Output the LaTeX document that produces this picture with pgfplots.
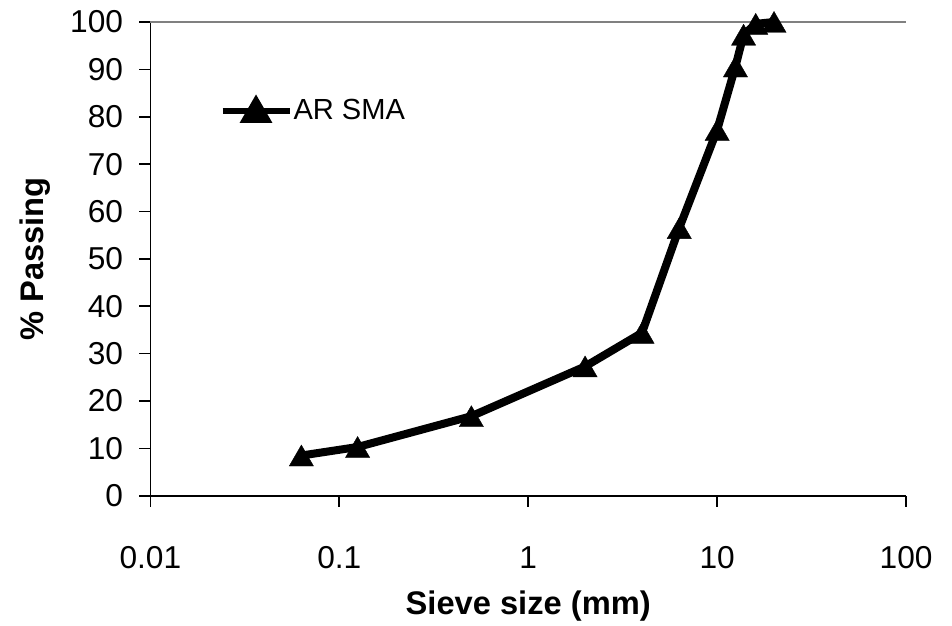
\documentclass[border=0pt]{standalone}
\usepackage{fontspec}
\setmainfont{Liberation Sans}
\usepackage{pgfplots}
\pgfplotsset{compat=1.18}

\newcommand{\tickfont}{\fontsize{15.9}{18}\selectfont}
\newcommand{\labfont}{\fontsize{16.4}{19}\selectfont}
\newcommand{\legfont}{\fontsize{14.6}{17}\selectfont}

\begin{document}
\begin{tikzpicture}
\begin{axis}[
  width=378bp, height=237bp, scale only axis,
  xmode=log, xmin=0.01, xmax=100,
  ymin=0, ymax=100,
  axis x line*=bottom, axis y line*=left,
  axis line style={black, line width=0.8bp},
  xtick={0.01,0.1,1,10,100},
  xticklabels={0.01,0.1,1,10,100},
  xminorticks=false,
  ytick={0,10,...,100},
  tick align=outside,
  major tick length=5.5bp,
  tick style={black, line width=0.8bp},
  /pgf/number format/assume math mode=true,
  tick label style={font=\tickfont},
  xticklabel style={anchor=base, yshift=-31bp},
  yticklabel style={anchor=east, inner sep=0pt, xshift=-8bp},
  extra y ticks={100},
  extra y tick labels={},
  extra y tick style={grid=major, major grid style={gray, line width=0.9bp}},
  xlabel={Sieve size (mm)},
  ylabel={\% Passing},
  label style={font=\labfont\bfseries},
  xlabel style={at={(axis description cs:0.5,-0.232)}, anchor=center},
  ylabel style={at={(axis description cs:-0.152,0.5)}, anchor=center, rotate=0},
  clip=false,
  legend style={at={(rel axis cs:0.091,0.812)}, anchor=west, draw=none, fill=none,
    font=\legfont, inner sep=0pt, nodes={inner sep=0.5bp}},
  legend image code/.code={
    \draw[black, line width=3bp] (0bp,0bp) -- (33.5bp,0bp);
    \fill[black] plot[mark=triangle*, mark size=5.5bp, mark options={yshift=-1.2bp}] coordinates {(16.75bp,0bp)};
  },
]
\addplot[black, line width=4bp, mark=triangle*, mark size=7bp,
  mark options={solid, line width=0.2bp, yshift=-1.75bp}] coordinates {
  (0.063,8.5) (0.125,10.3) (0.5,16.8) (2,27.3) (4,34.4) (6.3,56.5)
  (10,77.2) (12.5,90.6) (13.8,97.3) (16,99.6) (20,100)
};
\addlegendentry{AR SMA}
\node[anchor=base, font=\tickfont, yshift=-31bp] at (axis cs:0.001,0) {0.001};
\coordinate (bbsw) at (axis cs:0.0016,-27.43);
\coordinate (bbne) at (axis cs:175,104.64);
\end{axis}
\pgfresetboundingbox
\useasboundingbox (bbsw) rectangle (bbne);
\end{tikzpicture}
\end{document}
